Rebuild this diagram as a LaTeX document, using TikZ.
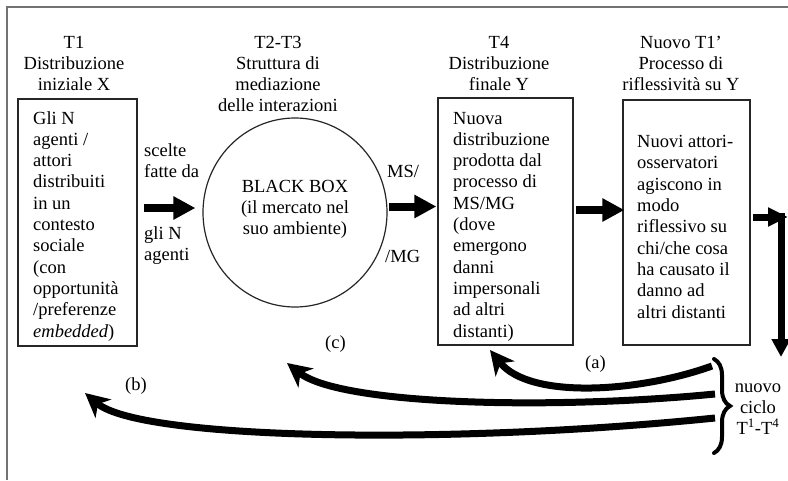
\documentclass[tikz,border=0pt]{standalone}
\usepackage{fontspec}
\setmainfont{Liberation Serif}
\usetikzlibrary{arrows.meta,shapes.geometric,decorations.pathreplacing}
\begin{document}
\begin{tikzpicture}[x=1pt,y=-1pt,
 txt/.style={font=\fontsize{18.5}{21.3}\selectfont, inner sep=0pt, align=left},
 ttl/.style={font=\fontsize{18.5}{21}\selectfont, inner sep=0pt, align=center},
 boxx/.style={draw=black!85, line width=1.2pt, inner sep=0pt},
 bigarrow/.style={line width=8pt, -{Triangle[length=22pt,width=22pt]}},
 curvearrow/.style={line width=7pt, -{Stealth[length=24pt,width=24pt,inset=7pt]}},
 framel/.style={draw=black!55, line width=1.6pt}]
\path[clip] (0,0) rectangle (788,480);
\fill[white] (0,0) rectangle (788,480);
% frame
\coordinate (fa) at (7,480);
\coordinate (fb) at (7,7);
\coordinate (fc) at (788,7);
\draw[framel] (fa) -- (fb) -- (fc);
% boxes
\node[boxx, minimum width=119pt, minimum height=247pt] (b1) at (77.5,222.5) {};
\node[draw=black!85, line width=1.2pt, ellipse, minimum width=184pt, minimum height=189pt, inner sep=0pt] (circ) at (295,212.5) {};
\node[boxx, minimum width=135pt, minimum height=247pt] (b3) at (505.5,221.5) {};
\node[boxx, minimum width=127pt, minimum height=245pt] (b4) at (686.5,222.5) {};
% titles (anchor base = baseline of last line)
\node[ttl, anchor=base] (h1) at (74,90) {T1\\Distribuzione\\iniziale X};
\node[ttl, anchor=base] (h2) at (278,111) {T2-T3\\Struttura di\\mediazione\\delle interazioni};
\node[ttl, anchor=base] (h3) at (499,90) {T4\\Distribuzione\\finale Y};
\node[ttl, anchor=base] (h4) at (681,90) {Nuovo T1’\\Processo di\\riflessività su Y};
% box texts
\node[txt, anchor=base west] (t1) at (33,337) {Gli N\\agenti /\\attori\\distribuiti\\in un\\contesto\\sociale\\(con\\opportunità\\/preferenze\\\textit{embedded})};
\node[ttl, anchor=base] (t2) at (295,234) {BLACK BOX\\(il mercato nel\\suo ambiente)};
\node[txt, anchor=base west] (t3) at (453,337) {Nuova\\distribuzione\\prodotta dal\\processo di\\MS/MG\\(dove\\emergono\\danni\\impersonali\\ad altri\\distanti)};
\node[txt, anchor=base west] (t4) at (637,318) {Nuovi attori-\\osservatori\\agiscono in\\modo\\riflessivo su\\chi/che cosa\\ha causato il\\danno ad\\altri distanti};
% labels
\node[ttl, align=left, anchor=base west] (l1) at (144,177) {scelte\\fatte da};
\node[ttl, align=left, anchor=base west] (l2) at (144,260) {gli N\\agenti};
\node[txt, anchor=base west] (l3) at (387,177) {MS/};
\node[txt, anchor=base west] (l4) at (385,262) {/MG};
\node[txt, anchor=base west] (lc) at (325,348) {(c)};
\node[txt, anchor=base west] (lb) at (125,390) {(b)};
\node[txt, anchor=base west] (la) at (585,368) {(a)};
\node[ttl, anchor=base] (lcyc) at (758,434) {nuovo\\ciclo\\T\textsuperscript{1}-T\textsuperscript{4}};
% straight arrows
\draw[bigarrow, shorten <=6pt, shorten >=7pt] ([yshift=4.5pt]circ.west -| b1.east) -- ([yshift=4.5pt]circ.west);
\draw[bigarrow, shorten <=1pt, shorten >=1pt] ([yshift=6pt]circ.east) -- ([yshift=6pt]circ.east -| b3.west);
\draw[bigarrow, shorten <=2pt, shorten >=-2pt] ([yshift=11.5pt]b3.east) -- ([yshift=11.5pt]b3.east -| b4.west);
\coordinate (rtip) at (788,217);
\coordinate (rtop) at (781,213);
\coordinate (rbot) at (781,357);
\draw[line width=7pt, -{Triangle[length=20pt,width=18pt]}, shorten <=2pt] ([yshift=5.5pt]b4.east) -- (rtip);
\draw[line width=7pt, -{Triangle[length=18pt,width=18pt]}] (rtop) -- (rbot);
% brace
\coordinate (bt) at (714,359);
\coordinate (bb) at (714,453);
\draw[line width=4pt, line cap=round, decorate, decoration={brace, amplitude=16pt}] (bt) -- (bb);
% curved arrows
\coordinate (sa) at (712,366);
\coordinate (ea) at (490,350);
\coordinate (sc) at (715,394);
\coordinate (ec) at (287,363);
\coordinate (sb) at (715,418);
\coordinate (eb) at (85,393);
\draw[curvearrow] (sa) .. controls (640,392) and (530,400) .. (ea);
\draw[curvearrow] (sc) .. controls (550,410) and (340,405) .. (ec);
\draw[curvearrow] (sb) .. controls (450,445) and (140,440) .. (eb);
\end{tikzpicture}
\end{document}
